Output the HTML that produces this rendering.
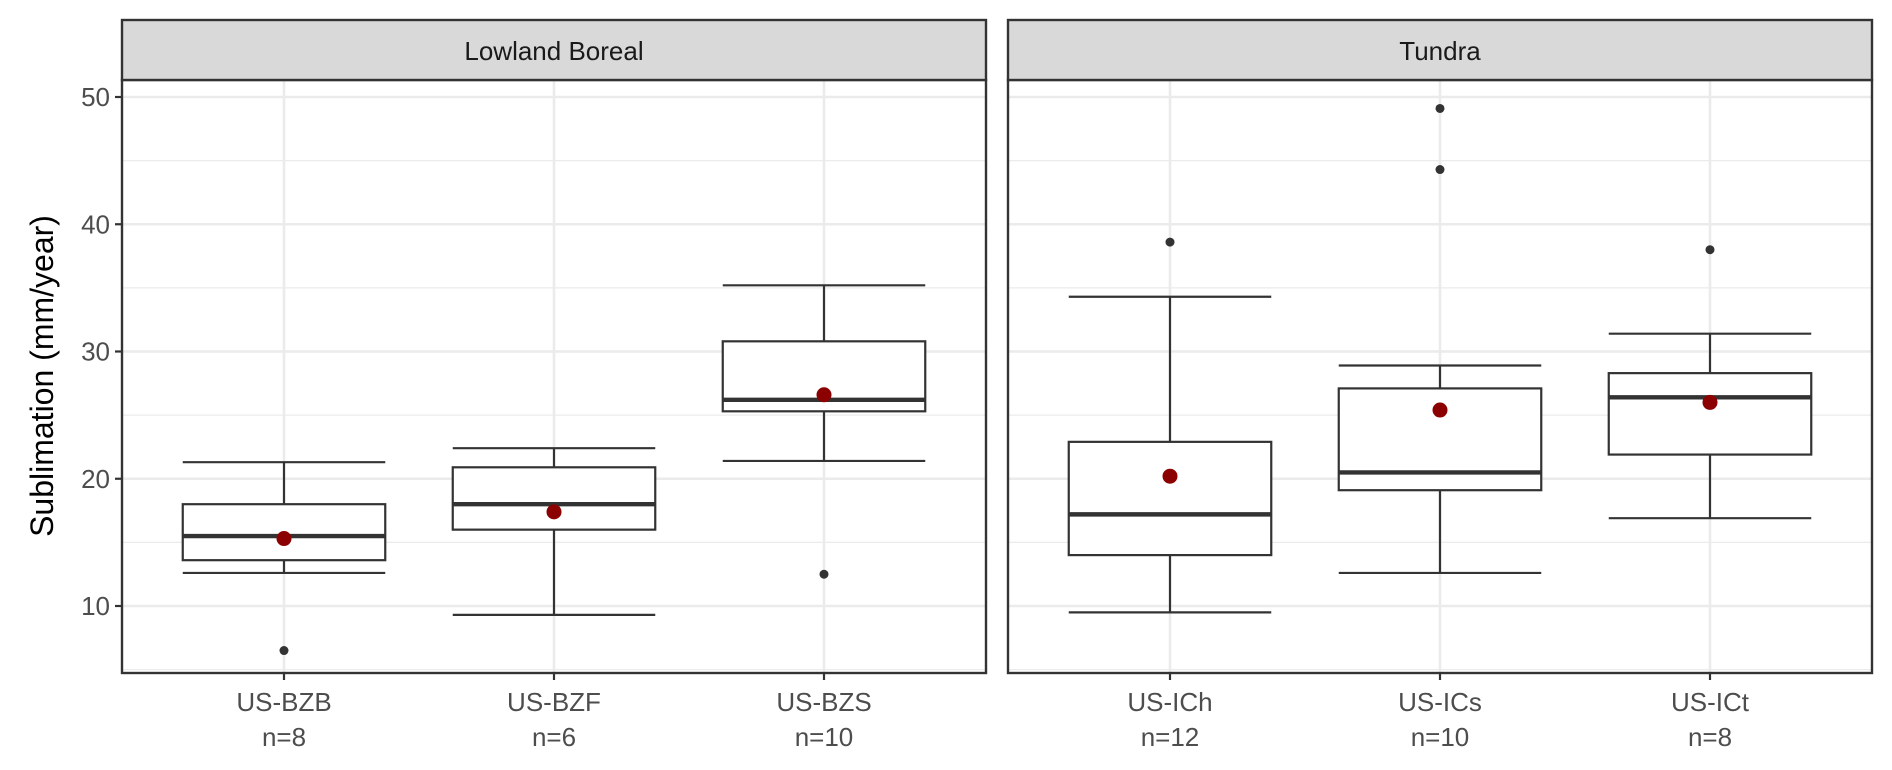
<!DOCTYPE html>
<html><head><meta charset="utf-8"><style>
html,body{margin:0;padding:0;background:#fff}
svg{display:block;font-family:"Liberation Sans",Arial,sans-serif}
</style></head><body>
<svg id="chart" width="1892" height="770" viewBox="0 0 1892 770" xmlns="http://www.w3.org/2000/svg"></svg>
<script>
const panels = ["Lowland Boreal", "Tundra"];
const sites = [["US-BZB","US-BZF","US-BZS"],["US-ICh","US-ICs","US-ICt"]];
const counts = [[8,6,10],[12,10,8]];
const lowerWhisker = [[12.6,9.3,21.4],[9.5,12.6,16.9]];
const q1 = [[13.6,16.0,25.3],[14.0,19.1,21.9]];
const median = [[15.5,18.0,26.2],[17.2,20.5,26.4]];
const q3 = [[18.0,20.9,30.8],[22.9,27.1,28.3]];
const upperWhisker = [[21.3,22.4,35.2],[34.3,28.9,31.4]];
const means = [[15.3,17.4,26.6],[20.2,25.4,26.0]];
const outliers = [[[6.5],[],[12.5]],[[38.6],[44.3,49.1],[38.0]]];
const yTicks = [10,20,30,40,50];
const yMinor = [5,15,25,35,45];

const NS="http://www.w3.org/2000/svg";
const svg=document.getElementById('chart');
const panelLeft=[122,1008], PW=864, TOP=80, BOT=673, STRIP=20;
const y=v=>97+(50-v)*12.725;
const x=(p,i)=>panelLeft[p]+(i+1-0.4)/3.2*PW;
const BW=0.75/3.2*PW;
function el(tag,attrs,parent){const e=document.createElementNS(NS,tag);for(const k in attrs)e.setAttribute(k,attrs[k]);(parent||svg).appendChild(e);return e;}

panels.forEach((name,p)=>{
  const L=panelLeft[p];
  const g=el('g',{});
  
  
  yMinor.forEach(v=>{const l=el('line',{x1:L,x2:L+PW,y1:y(v),y2:y(v),stroke:'#ebebeb','stroke-width':1.3},g);
    });
  yTicks.forEach(v=>{const l=el('line',{x1:L,x2:L+PW,y1:y(v),y2:y(v),stroke:'#ebebeb','stroke-width':2.6},g);
    });
  sites[p].forEach((s,i)=>{const l=el('line',{x1:x(p,i),x2:x(p,i),y1:TOP,y2:BOT,stroke:'#ebebeb','stroke-width':2.6},g);
    });
  sites[p].forEach((s,i)=>{
    const cx=x(p,i), bg=el('g',{},g);
    
    
    const st={stroke:'#333','stroke-width':2.2,fill:'none'};
    el('line',Object.assign({x1:cx,x2:cx,y1:y(upperWhisker[p][i]),y2:y(q3[p][i])},st),bg);
    el('line',Object.assign({x1:cx,x2:cx,y1:y(q1[p][i]),y2:y(lowerWhisker[p][i])},st),bg);
    el('line',Object.assign({x1:cx-BW/2,x2:cx+BW/2,y1:y(upperWhisker[p][i]),y2:y(upperWhisker[p][i])},st),bg);
    el('line',Object.assign({x1:cx-BW/2,x2:cx+BW/2,y1:y(lowerWhisker[p][i]),y2:y(lowerWhisker[p][i])},st),bg);
    el('rect',{x:cx-BW/2,y:y(q3[p][i]),width:BW,height:y(q1[p][i])-y(q3[p][i]),fill:'#fff',stroke:'#333','stroke-width':2.2},bg);
    el('line',{x1:cx-BW/2,x2:cx+BW/2,y1:y(median[p][i]),y2:y(median[p][i]),stroke:'#333','stroke-width':4.4},bg);
    outliers[p][i].forEach(o=>{const c=el('circle',{cx:cx,cy:y(o),r:4.5,fill:'#333'},bg);
      });
    const m=el('circle',{cx:cx,cy:y(means[p][i]),r:7.5,fill:'#8b0000'},bg);
    
    const t=el('text',{x:cx,y:711,'text-anchor':'middle','font-size':26,fill:'#4d4d4d'},svg);
    
    t.textContent=s;
    const t2=el('text',{x:cx,y:746,'text-anchor':'middle','font-size':26,fill:'#4d4d4d'},svg);
    
    t2.textContent='n='+counts[p][i];
    const tk=el('line',{x1:cx,x2:cx,y1:BOT,y2:BOT+7,stroke:'#333','stroke-width':2.2},svg);
    
  });
  const b=el('rect',{x:L,y:TOP,width:PW,height:BOT-TOP,fill:'none',stroke:'#333','stroke-width':2.4},g);
  
  const sr=el('rect',{x:L,y:STRIP,width:PW,height:TOP-STRIP,fill:'#d9d9d9',stroke:'#333','stroke-width':2.4},g);
  
  const stx=el('text',{x:L+PW/2,y:60,'text-anchor':'middle','font-size':26,fill:'#1a1a1a'},g);
  
  stx.textContent=name;
});
yTicks.forEach(v=>{
  const t=el('text',{x:110,y:y(v)+9,'text-anchor':'end','font-size':26,fill:'#4d4d4d'});
  
  t.textContent=v;
  const tk=el('line',{x1:115,x2:122,y1:y(v),y2:y(v),stroke:'#333','stroke-width':2.2});
  
});
const yt=el('text',{x:0,y:0,transform:'translate(53,376) rotate(-90)','text-anchor':'middle','font-size':32,fill:'#000'});

yt.textContent='Sublimation (mm/year)';
</script>
</body></html>
